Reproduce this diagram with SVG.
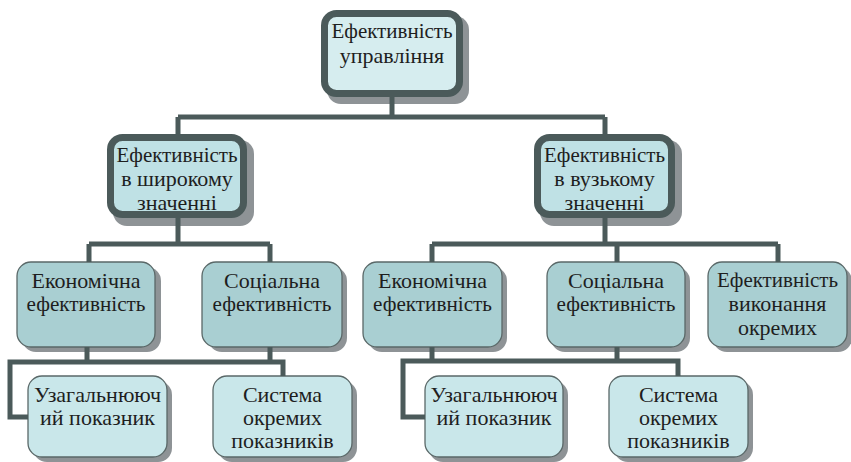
<svg xmlns="http://www.w3.org/2000/svg" width="851" height="462" viewBox="0 0 851 462">
<defs>
<rect id="s3" width="139" height="85" rx="14" fill="#8e9396"/>
<rect id="s4" width="139" height="81" rx="14" fill="#8e9396"/>
</defs>
<rect width="851" height="462" fill="#ffffff"/>
<g font-family="'Liberation Serif', 'Times New Roman', 'Noto Serif', serif" font-size="22" text-anchor="middle">
<g id="n-top">
<rect x="327" y="16" width="142" height="88" rx="14" fill="#8e9396"/>
<rect x="324.5" y="13.5" width="135" height="80" rx="12" fill="#d6edef" stroke="#4b5a5a" stroke-width="7"/>
<text x="392" y="38" fill="#1e1e1e" textLength="121" lengthAdjust="spacingAndGlyphs">Ефективність</text>
<text x="392" y="63" fill="#1e1e1e">управління</text>
</g>
<g id="n-wide">
<rect x="113" y="140" width="141" height="86" rx="14" fill="#8e9396"/>
<rect x="110.5" y="137.5" width="133" height="77" rx="12" fill="#bfe1e5" stroke="#4b5a5a" stroke-width="7"/>
<text x="177" y="162" fill="#1e1e1e" textLength="121" lengthAdjust="spacingAndGlyphs">Ефективність</text>
<text x="177" y="186" fill="#1e1e1e">в широкому</text>
<text x="177" y="210" fill="#1e1e1e">значенні</text>
</g>
<g id="n-narrow">
<rect x="540" y="140" width="142" height="86" rx="14" fill="#8e9396"/>
<rect x="537.5" y="137.5" width="134" height="77" rx="12" fill="#bfe1e5" stroke="#4b5a5a" stroke-width="7"/>
<text x="604.5" y="162" fill="#1e1e1e" textLength="121" lengthAdjust="spacingAndGlyphs">Ефективність</text>
<text x="604.5" y="186" fill="#1e1e1e">в вузькому</text>
<text x="604.5" y="210" fill="#1e1e1e">значенні</text>
</g>
<g id="n-econ1">
<use href="#s3" x="22" y="267"/>
<rect x="17" y="262" width="138" height="85" rx="14" fill="#a9cfd2" stroke="#5a6868" stroke-width="1.3"/>
<text x="86" y="288" fill="#1e1e1e">Економічна</text>
<text x="86" y="311" fill="#1e1e1e" textLength="119" lengthAdjust="spacingAndGlyphs">ефективність</text>
</g>
<g id="n-soc1">
<use href="#s3" x="208" y="267"/>
<rect x="202" y="262" width="140" height="85" rx="14" fill="#a9cfd2" stroke="#5a6868" stroke-width="1.3"/>
<text x="272" y="288" fill="#1e1e1e">Соціальна</text>
<text x="272" y="311" fill="#1e1e1e" textLength="119" lengthAdjust="spacingAndGlyphs">ефективність</text>
</g>
<g id="n-econ2">
<use href="#s3" x="368" y="267"/>
<rect x="363" y="262" width="139" height="85" rx="14" fill="#a9cfd2" stroke="#5a6868" stroke-width="1.3"/>
<text x="432.5" y="288" fill="#1e1e1e">Економічна</text>
<text x="432.5" y="311" fill="#1e1e1e" textLength="119" lengthAdjust="spacingAndGlyphs">ефективність</text>
</g>
<g id="n-soc2">
<use href="#s3" x="551" y="267"/>
<rect x="547" y="262" width="138" height="85" rx="14" fill="#a9cfd2" stroke="#5a6868" stroke-width="1.3"/>
<text x="616" y="288" fill="#1e1e1e">Соціальна</text>
<text x="616" y="311" fill="#1e1e1e" textLength="119" lengthAdjust="spacingAndGlyphs">ефективність</text>
</g>
<g id="n-exec">
<use href="#s3" x="713" y="267"/>
<rect x="708" y="262" width="139" height="85" rx="14" fill="#a9cfd2" stroke="#5a6868" stroke-width="1.3"/>
<text x="777.5" y="287" fill="#1e1e1e" textLength="121" lengthAdjust="spacingAndGlyphs">Ефективність</text>
<text x="777.5" y="311" fill="#1e1e1e">виконання</text>
<text x="777.5" y="335" fill="#1e1e1e">окремих</text>
</g>
<g id="n-gen1">
<use href="#s4" x="33" y="381"/>
<rect x="28" y="376" width="139" height="81" rx="14" fill="#c9e7ea" stroke="#5a6868" stroke-width="1.3"/>
<text x="97.5" y="402" fill="#1e1e1e" textLength="127" lengthAdjust="spacingAndGlyphs">Узагальнююч</text>
<text x="97.5" y="425" fill="#1e1e1e">ий показник</text>
</g>
<g id="n-sys1">
<use href="#s4" x="218" y="381"/>
<rect x="213" y="376" width="139" height="81" rx="14" fill="#c9e7ea" stroke="#5a6868" stroke-width="1.3"/>
<text x="282.5" y="402" fill="#1e1e1e">Система</text>
<text x="282.5" y="425" fill="#1e1e1e">окремих</text>
<text x="282.5" y="448" fill="#1e1e1e">показників</text>
</g>
<g id="n-gen2">
<use href="#s4" x="429" y="381"/>
<rect x="425" y="376" width="138" height="81" rx="14" fill="#c9e7ea" stroke="#5a6868" stroke-width="1.3"/>
<text x="494" y="402" fill="#1e1e1e" textLength="127" lengthAdjust="spacingAndGlyphs">Узагальнююч</text>
<text x="494" y="425" fill="#1e1e1e">ий показник</text>
</g>
<g id="n-sys2">
<use href="#s4" x="614" y="381"/>
<rect x="609" y="376" width="139" height="81" rx="14" fill="#c9e7ea" stroke="#5a6868" stroke-width="1.3"/>
<text x="678.5" y="402" fill="#1e1e1e">Система</text>
<text x="678.5" y="425" fill="#1e1e1e">окремих</text>
<text x="678.5" y="448" fill="#1e1e1e">показників</text>
</g>
</g>
<g id="connectors" fill="none" stroke="#4b5a5a" stroke-width="5" stroke-linejoin="miter" stroke-linecap="butt">
<path d="M392 97V117M178 117H605M178 117V134M605 117V134"/>
<path d="M178 218V244M89 244H270M89 244V262M270 244V262"/>
<path d="M605 218V244M432 244H778M432 244V262M617 244V262M778 244V262"/>
<path d="M87 347V362M270 347V362M283 376V362H10V417H28"/>
<path d="M432 347V361M617 347V361M678 376V361H403V417H425"/>
</g>
</svg>
